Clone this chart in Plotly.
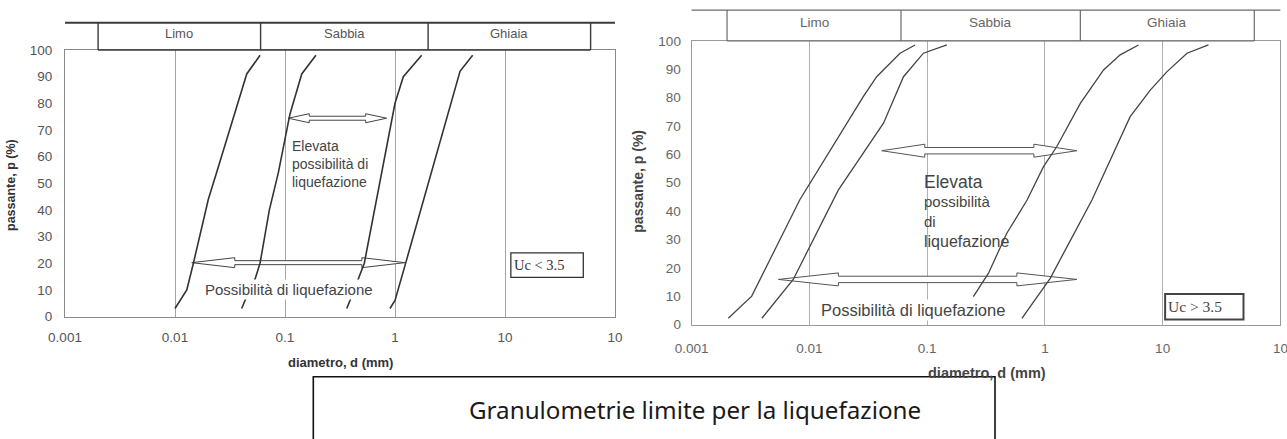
import numpy as np
import plotly.graph_objects as go

W, H = 1287, 439

# ---------------- data ----------------
# Left chart (Uc < 3.5): diameter d (mm) vs passing p (%)
left_curve1_d = [0.0100, 0.0128, 0.0147, 0.0169, 0.0201, 0.0239, 0.0316, 0.0449, 0.0593]
left_curve1_p = [3, 10, 20, 31, 44, 54, 70, 91, 98]
left_curve2_d = [0.0404, 0.0433, 0.0534, 0.0593, 0.0721, 0.087, 0.111, 0.142, 0.191]
left_curve2_p = [3, 6, 14, 20, 40, 54, 76, 91, 98]
left_curve3_d = [0.364, 0.39, 0.526, 0.652, 0.807, 1.0, 1.19, 1.748]
left_curve3_p = [3, 6, 20, 40, 60, 80, 90, 98]
left_curve4_d = [0.90, 1.0, 1.23, 1.72, 2.36, 3.23, 3.9, 5.08]
left_curve4_p = [3, 6, 19, 40, 60, 80, 92, 98]

# Right chart (Uc > 3.5)
right_curve1_d = [0.00205, 0.00324, 0.0083, 0.0221, 0.0287, 0.0373, 0.0454, 0.0589, 0.079]
right_curve1_p = [2.2, 10, 44, 72.7, 80.4, 87.4, 90.9, 95.7, 98.6]
right_curve2_d = [0.00395, 0.0073, 0.0176, 0.0426, 0.063, 0.093, 0.147]
right_curve2_p = [2.2, 15.9, 47.4, 71, 87.4, 95.7, 98.6]
right_curve3_d = [0.247, 0.332, 0.475, 0.706, 0.973, 1.26, 2.0, 3.15, 4.36, 6.24]
right_curve3_p = [9.8, 18.1, 32.2, 43.9, 55.7, 62.7, 78, 89.8, 95.1, 98.6]
right_curve4_d = [0.638, 1.11, 1.54, 2.51, 5.3, 7.85, 10.9, 16.1, 24.5]
right_curve4_p = [2.2, 16.3, 27.4, 43.9, 73.3, 82.7, 89.2, 95.7, 98.6]

# Soil classes (header band)
zone_labels = ["Limo", "Sabbia", "Ghiaia"]
zone_bounds_mm = [0.002, 0.06, 2, 60]

# Ranges (arrows): diameter span and passing level
left_arrow_high_d = [0.107, 0.84]
left_arrow_high_p = 74.4
left_arrow_low_d = [0.0142, 1.23]
left_arrow_low_p = 20.2
right_arrow_high_d = [0.0412, 1.87]
right_arrow_high_p = 61.3
right_arrow_low_d = [0.00546, 1.87]
right_arrow_low_p = 15.9

# Uc boxes (diameter span, passing span)
left_uc_box_d = [11.3, 51.5]
left_uc_box_p = [14.7, 23.9]
right_uc_box_d = [10.5, 48.6]
right_uc_box_p = [1.8, 10.8]

# Ticks (the last label is shown cut to "10" in the reference)
x_tick_vals = [0.001, 0.01, 0.1, 1, 10, 100]
x_tick_text_left = ["0.001", "0.01", "0.1", "1", "10", "10"]
x_tick_text_right = ["0.001", "0.01", "0.1", "1", "10", "10"]
y_tick_vals = [0, 10, 20, 30, 40, 50, 60, 70, 80, 90, 100]

# Texts
txt_high_left = "Elevata<br>possibilità di<br>liquefazione"
txt_high_right = ["Elevata", "possibilità", "di", "liquefazione"]
txt_low = "Possibilità di liquefazione"
txt_uc_left = "Uc < 3.5"
txt_uc_right = "Uc > 3.5"
y_title = "passante, p (%)"
x_title = "diametro, d (mm)"
caption = "Granulometrie limite per la liquefazione"

# ---------------- layout geometry ----------------
L_XDOM = [65 / W, 615 / W]
L_YDOM = [(H - 316.5) / H, (H - 50) / H]
R_XDOM = [691.6 / W, 1280.4 / W]
R_YDOM = [(H - 324.5) / H, (H - 41) / H]
X_RANGE = [-3, 2]
Y_RANGE = [0, 100]

SANS = "Liberation Sans, Arial, sans-serif"
SERIF = "Liberation Serif, Times New Roman, serif"

fig = go.Figure()


def px_scales(xdom, ydom):
    dec_per_px = (X_RANGE[1] - X_RANGE[0]) / ((xdom[1] - xdom[0]) * W)
    pct_per_px = (Y_RANGE[1] - Y_RANGE[0]) / ((ydom[1] - ydom[0]) * H)
    return dec_per_px, pct_per_px


def add_arrow(d, p, xa, ya, scales, head_px, headw_px, shaft_px, color):
    dpp, ppp = scales
    L0, L1 = np.log10(d[0]), np.log10(d[1])
    h = head_px * dpp
    w = headw_px * ppp
    s = shaft_px * ppp
    xs = [L0, L0 + h, L0 + h, L1 - h, L1 - h, L1, L1 - h, L1 - h, L0 + h, L0 + h, L0]
    ys = [p, p + w, p + s, p + s, p + w, p, p - w, p - s, p - s, p - w, p]
    fig.add_trace(go.Scatter(x=[10 ** v for v in xs], y=ys, mode="lines", fill="toself",
                             fillcolor="white", line=dict(color=color, width=1),
                             xaxis=xa, yaxis=ya, hoverinfo="skip", showlegend=False))


ls = px_scales(L_XDOM, L_YDOM)
rs = px_scales(R_XDOM, R_YDOM)

add_arrow(left_arrow_high_d, left_arrow_high_p, "x", "y", ls, 21, 4.5, 2.0, "#444")
add_arrow(left_arrow_low_d, left_arrow_low_p, "x", "y", ls, 43, 5.0, 2.0, "#444")
add_arrow(right_arrow_high_d, right_arrow_high_p, "x2", "y2", rs, 43, 6.5, 3.2, "#555")
add_arrow(right_arrow_low_d, right_arrow_low_p, "x2", "y2", rs, 60, 6.5, 3.2, "#555")

for d, p in [(left_curve1_d, left_curve1_p), (left_curve2_d, left_curve2_p),
             (left_curve3_d, left_curve3_p), (left_curve4_d, left_curve4_p)]:
    fig.add_trace(go.Scatter(x=d, y=p, mode="lines", line=dict(color="#333", width=1.6),
                             xaxis="x", yaxis="y", hoverinfo="skip", showlegend=False))
for d, p in [(right_curve1_d, right_curve1_p), (right_curve2_d, right_curve2_p),
             (right_curve3_d, right_curve3_p), (right_curve4_d, right_curve4_p)]:
    fig.add_trace(go.Scatter(x=d, y=p, mode="lines", line=dict(color="#444", width=1.3),
                             xaxis="x2", yaxis="y2", hoverinfo="skip", showlegend=False))

shapes = []
annotations = []


def header(xr, yr, top, label_y, color, lw, top_lw, fsize, fcolor):
    # shapes on log axes take data values; annotations take log10 values
    shapes.append(dict(type="line", xref=xr + " domain", yref=yr + " domain",
                       x0=0, x1=1, y0=top, y1=top, line=dict(color=color, width=top_lw)))
    shapes.append(dict(type="line", xref=xr, yref=yr + " domain",
                       x0=zone_bounds_mm[0], x1=zone_bounds_mm[-1], y0=1, y1=1,
                       line=dict(color=color, width=lw)))
    for b in zone_bounds_mm:
        shapes.append(dict(type="line", xref=xr, yref=yr + " domain",
                           x0=b, x1=b, y0=1, y1=top, line=dict(color=color, width=lw)))
    lb = [np.log10(b) for b in zone_bounds_mm]
    for i, lab in enumerate(zone_labels):
        annotations.append(dict(text=lab, xref=xr, yref=yr + " domain",
                                x=(lb[i] + lb[i + 1]) / 2, y=label_y, showarrow=False,
                                xanchor="center", yanchor="middle",
                                font=dict(family=SANS, size=fsize, color=fcolor)))


header("x", "y", 1.1024, 1.0627, "#3a3a3a", 1.4, 2.0, 13, "#555")
header("x2", "y2", 1.109, 1.064, "#6a6a6a", 1.2, 1.2, 13.5, "#666")

# Text labels in the plots
annotations.append(dict(text=txt_high_left, xref="x", yref="y", x=np.log10(0.111), y=57.2,
                        xanchor="left", yanchor="middle", align="left", showarrow=False,
                        font=dict(family=SANS, size=14, color="#444")))
annotations.append(dict(text=txt_low, xref="x", yref="y", x=np.log10(0.109), y=10.3,
                        xanchor="center", yanchor="middle", showarrow=False, bgcolor="white",
                        font=dict(family=SANS, size=15, color="#444")))
for t, yv, fs in zip(txt_high_right, [50.4, 43.3, 36.3, 29.2], [17.5, 15, 15, 16]):
    annotations.append(dict(text=t, xref="x2", yref="y2", x=np.log10(0.0902), y=yv,
                            xanchor="left", yanchor="middle", showarrow=False,
                            font=dict(family=SANS, size=fs, color="#444")))
annotations.append(dict(text=txt_low, xref="x2", yref="y2", x=np.log10(0.0765), y=5.1,
                        xanchor="center", yanchor="middle", showarrow=False, bgcolor="white",
                        font=dict(family=SANS, size=16.5, color="#444")))

# Uc boxes
shapes.append(dict(type="rect", xref="x", yref="y", x0=left_uc_box_d[0], x1=left_uc_box_d[1],
                   y0=left_uc_box_p[0], y1=left_uc_box_p[1], line=dict(color="#333", width=1.3)))
annotations.append(dict(text=txt_uc_left, xref="x", yref="y", x=np.log10(left_uc_box_d[0]) + 0.01,
                        y=sum(left_uc_box_p) / 2, xanchor="left", yanchor="middle", showarrow=False,
                        font=dict(family=SERIF, size=14.5, color="#333")))
shapes.append(dict(type="rect", xref="x2", yref="y2", x0=right_uc_box_d[0], x1=right_uc_box_d[1],
                   y0=right_uc_box_p[0], y1=right_uc_box_p[1], line=dict(color="#444", width=2)))
annotations.append(dict(text=txt_uc_right, xref="x2", yref="y2", x=np.log10(right_uc_box_d[0]) + 0.01,
                        y=sum(right_uc_box_p) / 2, xanchor="left", yanchor="middle", showarrow=False,
                        font=dict(family=SERIF, size=15.5, color="#444")))

# Axis titles
annotations.append(dict(text="<b>" + y_title + "</b>", xref="paper", yref="paper",
                        x=11 / W, y=(H - 185) / H, textangle=-90, showarrow=False,
                        xanchor="center", yanchor="middle",
                        font=dict(family=SANS, size=12.5, color="#333")))
annotations.append(dict(text="<b>" + y_title + "</b>", xref="paper", yref="paper",
                        x=638 / W, y=(H - 181.7) / H, textangle=-90, showarrow=False,
                        xanchor="center", yanchor="middle",
                        font=dict(family=SANS, size=14, color="#444")))
annotations.append(dict(text="<b>" + x_title + "</b>", xref="paper", yref="paper",
                        x=340.8 / W, y=(H - 362) / H, showarrow=False,
                        xanchor="center", yanchor="middle",
                        font=dict(family=SANS, size=13, color="#333")))
annotations.append(dict(text="<b>" + x_title + "</b>", xref="paper", yref="paper",
                        x=986.7 / W, y=(H - 372.7) / H, showarrow=False,
                        xanchor="center", yanchor="middle",
                        font=dict(family=SANS, size=14.5, color="#444")))

# Caption box
shapes.append(dict(type="rect", xref="paper", yref="paper", x0=313.3 / W, x1=995 / W,
                   y0=-0.05, y1=(H - 376.7) / H, line=dict(color="#111", width=1.6)))
annotations.append(dict(text=caption, xref="paper", yref="paper", x=694.7 / W,
                        y=(H - 409) / H, showarrow=False, xanchor="center", yanchor="middle",
                        font=dict(family="Noto Sans, sans-serif", size=24.2, color="#1a1a1a")))

xcommon = dict(type="log", range=X_RANGE, showline=True, mirror=True, linewidth=1,
               showgrid=True, gridwidth=1, zeroline=False, ticks="",
               tickmode="array", tickvals=x_tick_vals, ticklabeloverflow="allow")
ycommon = dict(range=Y_RANGE, showline=True, mirror=True, linewidth=1, showgrid=False,
               zeroline=False, ticks="", tickmode="array", tickvals=y_tick_vals)

fig.update_layout(
    width=W, height=H, margin=dict(l=0, r=0, t=0, b=0, autoexpand=False),
    paper_bgcolor="white", plot_bgcolor="white", showlegend=False,
    xaxis=dict(**xcommon, domain=L_XDOM, anchor="y", ticktext=x_tick_text_left,
               linecolor="#8a8a8a", gridcolor="#a5a5a5", ticklabelstandoff=8,
               tickfont=dict(family=SANS, size=13.5, color="#555")),
    yaxis=dict(**ycommon, domain=L_YDOM, anchor="x", linecolor="#8a8a8a",
               ticklabelstandoff=9, tickfont=dict(family=SANS, size=13.5, color="#555")),
    xaxis2=dict(**xcommon, domain=R_XDOM, anchor="y2", ticktext=x_tick_text_right,
                linecolor="#9a9a9a", gridcolor="#b0b0b0", ticklabelstandoff=11,
                tickfont=dict(family=SANS, size=13.5, color="#666")),
    yaxis2=dict(**ycommon, domain=R_YDOM, anchor="x2", linecolor="#9a9a9a",
                ticklabelstandoff=7, tickfont=dict(family=SANS, size=13.5, color="#666")),
    shapes=shapes, annotations=annotations,
)

fig.write_html("out.html", config={"displayModeBar": False},
               post_script="document.body.style.margin='0';document.body.style.overflow='hidden';")
